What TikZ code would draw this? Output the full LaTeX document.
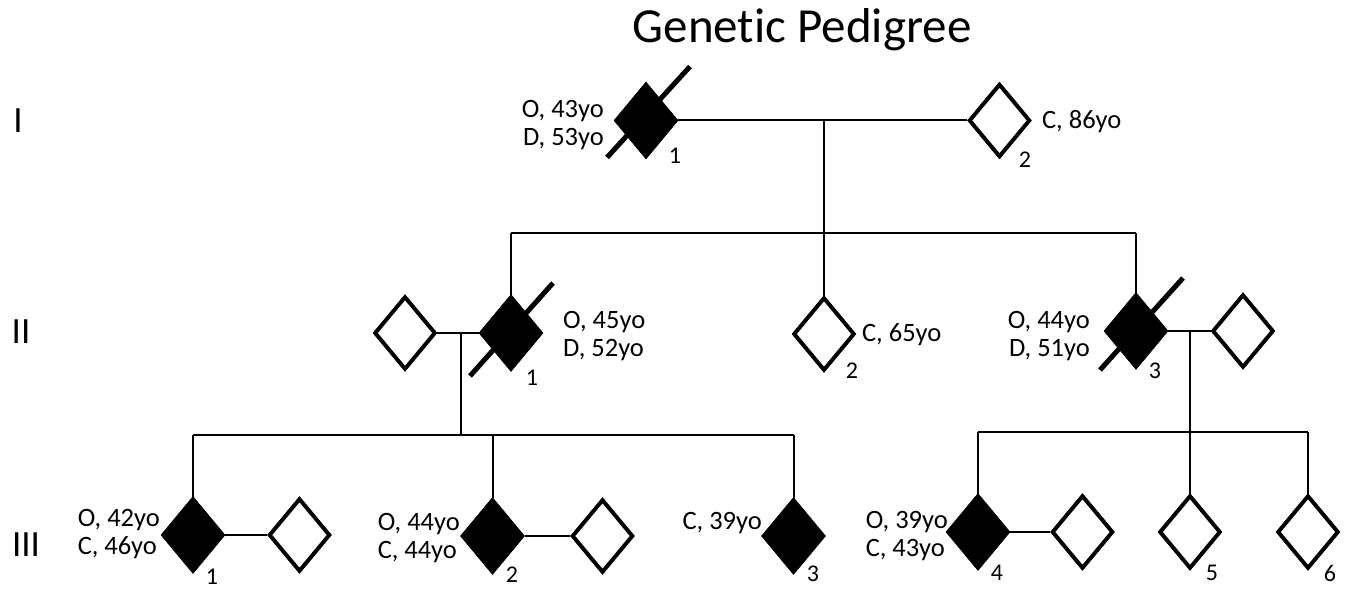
\documentclass[tikz,border=0pt]{standalone}
\usepackage{fontspec}
\setmainfont[Ligatures=NoCommon]{Carlito}
\usetikzlibrary{shapes.geometric}
\tikzset{
  person/.style={diamond, draw=black, line width=3.8pt, minimum width=61pt, minimum height=73pt, inner sep=0pt, fill=white},
  affected/.style={person, fill=black},
  conn/.style={line width=2pt},
  slash/.style={line width=5pt},
  info/.style={font=\fontsize{26.5}{28.5}\selectfont, inner sep=0pt},
  num/.style={font=\fontsize{24}{25}\selectfont, inner sep=0pt},
  gen/.style={font=\fontsize{37}{40}\selectfont, inner sep=0pt}
}
\begin{document}
\begin{tikzpicture}[x=1pt,y=-1pt]
\path[use as bounding box] (0,0) rectangle (1350,591);
\fill[white] (0,0) rectangle (1350,591);

% title and generation labels
\node[font=\fontsize{49}{54}\selectfont, inner sep=0pt] (title) at (802,30) {Genetic Pedigree};
\node[gen] (gI) at (18,121) {I};
\node[gen] (gII) at (21,332) {II};
\node[gen] (gIII) at (26,545) {III};

% Generation I
\node[affected] (I1) at (646,120.5) {};
\node[person] (I2) at (999.5,120.5) {};
% Generation II
\node[person] (IIsp1) at (405,333) {};
\node[affected] (II1) at (511,333) {};
\node[person] (II2) at (824,334) {};
\node[affected] (II3) at (1136,331) {};
\node[person] (IIsp3) at (1243,331) {};
% Generation III
\node[affected] (III1) at (193,535) {};
\node[person] (IIIsp1) at (299.5,535) {};
\node[affected] (III2) at (492.5,536) {};
\node[person] (IIIsp2) at (602.5,536) {};
\node[affected] (III3) at (793.5,536) {};
\node[affected] (III4) at (978,532) {};
\node[person] (IIIsp4) at (1082.5,532) {};
\node[person] (III5) at (1190,532) {};
\node[person] (III6) at (1308,532) {};

% coordinates for mating/sibship lines
\coordinate (m1) at (824,120.5);
\coordinate (s1) at (824,233);
\coordinate (m2) at (461,333);
\coordinate (s2) at (461,435);
\coordinate (m3) at (1190,331);
\coordinate (s3) at (1190,432);

% connectors
\draw[conn] (I1.east) -- (I2.west);
\draw[conn] (m1) -- (s1);
\draw[conn] (II1.north |- s1) -- (II3.north |- s1);
\draw[conn] (II1.north |- s1) -- (II1.north);
\draw[conn] (s1) -- (II2.north);
\draw[conn] (II3.north |- s1) -- (II3.north);

\draw[conn] (IIsp1.east) -- (II1.west);
\draw[conn] (m2) -- (s2);
\draw[conn] (III1.north |- s2) -- (III3.north |- s2);
\draw[conn] (III1.north |- s2) -- (III1.north);
\draw[conn] (III2.north |- s2) -- (III2.north);
\draw[conn] (III3.north |- s2) -- (III3.north);

\draw[conn] (II3.east) -- (IIsp3.west);
\draw[conn] (m3) -- (s3);
\draw[conn] (III4.north |- s3) -- (III6.north |- s3);
\draw[conn] (III4.north |- s3) -- (III4.north);
\draw[conn] (s3) -- (III5.north);
\draw[conn] (III6.north |- s3) -- (III6.north);

\draw[conn] (III1.east) -- (IIIsp1.west);
\draw[conn] (III2.east) -- (IIIsp2.west);
\draw[conn] (III4.east) -- (IIIsp4.west);

% redraw diamonds over connectors
\node[affected] at (I1) {};
\node[person] at (I2) {};
\node[person] at (IIsp1) {};
\node[affected] at (II1) {};
\node[person] at (II2) {};
\node[affected] at (II3) {};
\node[person] at (IIsp3) {};
\node[affected] at (III1) {};
\node[person] at (IIIsp1) {};
\node[affected] at (III2) {};
\node[person] at (IIIsp2) {};
\node[affected] at (III3) {};
\node[affected] at (III4) {};
\node[person] at (IIIsp4) {};
\node[person] at (III5) {};
\node[person] at (III6) {};

% deceased slashes
\draw[slash] ([shift={(-39,37)}]I1.center) -- ([shift={(44,-54)}]I1.center);
\draw[slash] ([shift={(-41,43)}]II1.center) -- ([shift={(42,-50)}]II1.center);
\draw[slash] ([shift={(-36,39)}]II3.center) -- ([shift={(47,-53)}]II3.center);

% info labels
\node[info, anchor=east, align=right] (tI1) at (604,125) {O, 43yo\\D, 53yo};
\node[info, anchor=west] (tI2) at (1042,122) {C, 86yo};
\node[info, anchor=west, align=left] (tII1) at (563,336) {O, 45yo\\D, 52yo};
\node[info, anchor=west] (tII2) at (862,335) {C, 65yo};
\node[info, anchor=east, align=right] (tII3) at (1090,336) {O, 44yo\\D, 51yo};
\node[info, anchor=east, align=left] (tIII1) at (160,534) {O, 42yo\\C, 46yo};
\node[info, anchor=east, align=left] (tIII2) at (460,538) {O, 44yo\\C, 44yo};
\node[info, anchor=east] (tIII3) at (762,523) {C, 39yo};
\node[info, anchor=east, align=left] (tIII4) at (948,536) {O, 39yo\\C, 43yo};

% numbers
\node[num] (nI1) at (675,156) {1};
\node[num] (nI2) at (1025,160) {2};
\node[num] (nII1) at (532,378) {1};
\node[num] (nII2) at (852,371) {2};
\node[num] (nII3) at (1155,371) {3};
\node[num] (nIII1) at (212,577) {1};
\node[num] (nIII2) at (512,575) {2};
\node[num] (nIII3) at (813,574) {3};
\node[num] (nIII4) at (997,573) {4};
\node[num] (nIII5) at (1212,573) {5};
\node[num] (nIII6) at (1330,573) {6};
\end{tikzpicture}
\end{document}
